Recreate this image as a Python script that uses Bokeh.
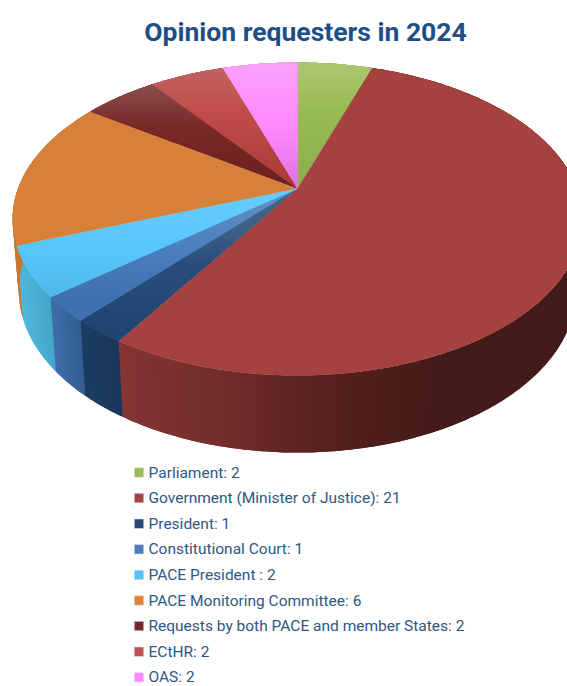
import math

from bokeh.core.properties import value
from bokeh.embed import file_html
from bokeh.models import Range1d
from bokeh.plotting import figure
from bokeh.resources import INLINE

# Opinion requesters and their request counts
categories = [
    "Parliament",
    "Government (Minister of Justice)",
    "President",
    "Constitutional Court",
    "PACE President ",
    "PACE Monitoring Committee",
    "Requests by both PACE and member States",
    "ECtHR",
    "OAS",
]
counts = [2, 21, 1, 1, 2, 6, 2, 2, 2]
chart_title = "Opinion requesters in 2024"

swatch_colors = ["#9BBB59", "#A5413F", "#254A78", "#4A7EBB", "#55C4F5",
                 "#DE8238", "#772725", "#C0504D", "#FF8AFF"]

# Vertical shading of each slice's top face: (screen y, colour)
top_shades = [
    [(62, "#ABC870"), (110, "#98BA55"), (190, "#8CAE4C")],
    [(0, "#A5413F")],
    [(225, "#3F6287"), (262, "#2A4E7C"), (325, "#1F4572")],
    [(205, "#5E8DC0"), (255, "#4A7DBD"), (300, "#3F70B0")],
    [(190, "#66CCFF"), (250, "#58C6FA"), (300, "#4DB9E8")],
    [(0, "#D6803A")],
    [(85, "#8A4E4D"), (125, "#7A2A28"), (188, "#6C1F1D")],
    [(68, "#C2625F"), (120, "#BF4A47"), (188, "#A63A37")],
    [(62, "#F9A0FB"), (125, "#FF8AFF"), (188, "#DD70DD")],
]

# Horizontal shading of each slice's outer wall: (screen x, colour)
wall_shades = [
    [(0, "#7C9447")],
    [(118, "#843534"), (240, "#6E2B2A"), (300, "#5C2322"), (400, "#4A1C1A"), (445, "#431B18")],
    [(85, "#1B3B60"), (118, "#19375A")],
    [(55, "#3C6CA5"), (85, "#2F5A8D")],
    [(20, "#4FB6DA"), (55, "#41A3C6")],
    [(12, "#C67730"), (30, "#BD7030")],
    [(0, "#5B1E1C")],
    [(0, "#933B39")],
    [(0, "#C26AC2")],
]

# Perspective placement of the disc on the page
CX, APEX_Y = 297.0, 188.0
RX, RY, TILT = 279.5, 150.6, 0.195


def hex_rgb(c):
    return tuple(int(c[i:i + 2], 16) for i in (1, 3, 5))


def shade(stops, t):
    if t <= stops[0][0]:
        return stops[0][1]
    for (t0, c0), (t1, c1) in zip(stops, stops[1:]):
        if t <= t1:
            f = (t - t0) / (t1 - t0)
            a, b = hex_rgb(c0), hex_rgb(c1)
            return "#%02x%02x%02x" % tuple(round(x + (y - x) * f) for x, y in zip(a, b))
    return stops[-1][1]


def rim_point(angle):
    u, v = math.sin(angle), math.cos(angle)
    w = 1 + TILT * v
    return CX + RX * u / w, APEX_Y - RY * v / w


def floor_point(angle):
    x, y = rim_point(angle)
    return CX + (x - CX) * 0.978, y + 70 - 7 * math.cos(angle)


def clip_band(points, y0, y1):
    """Cut a convex polygon down to the horizontal band y0..y1."""
    def clip(pts, inside, limit):
        out = []
        for i, a in enumerate(pts):
            b = pts[(i + 1) % len(pts)]
            if inside(a):
                out.append(a)
            if inside(a) != inside(b):
                f = (limit - a[1]) / (b[1] - a[1])
                out.append((a[0] + (b[0] - a[0]) * f, limit))
        return out

    pts = clip(points, lambda p: p[1] >= y0, y0)
    return clip(pts, lambda p: p[1] <= y1, y1) if pts else []


total = sum(counts)
spans = []
running = 0
for n in counts:
    spans.append((running / total * 2 * math.pi, (running + n) / total * 2 * math.pi))
    running += n

wall_xs, wall_ys, wall_cols = [], [], []
top_xs, top_ys, top_cols = [], [], []

for (start, end), t_stops, w_stops in zip(spans, top_shades, wall_shades):
    steps = max(2, int((end - start) / math.radians(0.75)))
    step = (end - start) / steps
    angles = [start + step * i for i in range(steps + 1)]

    # Outer wall: narrow upright strips, each running under the one drawn after it
    for a0 in angles[:-1]:
        a1, a2 = a0 + step, a0 + 2 * step
        quad = [rim_point(a0), rim_point(a1), rim_point(a2),
                floor_point(a2), floor_point(a1), floor_point(a0)]
        wall_xs.append([q[0] for q in quad])
        wall_ys.append([q[1] for q in quad])
        wall_cols.append(shade(w_stops, (quad[0][0] + quad[1][0]) / 2))

    # Top face: a base wedge, then overlapping horizontal bands for the gradient
    wedge = [(CX, APEX_Y)] + [rim_point(a) for a in angles]
    low = min(q[1] for q in wedge)
    high = max(q[1] for q in wedge)
    top_xs.append([q[0] for q in wedge])
    top_ys.append([q[1] for q in wedge])
    top_cols.append(shade(t_stops, (low + high) / 2))
    if len(t_stops) > 1:
        y = low
        while y < high:
            band = clip_band(wedge, y, y + 3)
            if len(band) >= 3:
                top_xs.append([q[0] for q in band])
                top_ys.append([q[1] for q in band])
                top_cols.append(shade(t_stops, y + 1))
            y += 2

p = figure(width=567, height=686, output_backend="svg", toolbar_location=None,
           x_range=Range1d(0, 567), y_range=Range1d(686, 0),
           min_border=0, outline_line_color=None, background_fill_color="white",
           border_fill_color="white")
p.axis.visible = False
p.grid.visible = False

p.patches(wall_xs, wall_ys, fill_color=wall_cols, line_color=None)
p.patches(top_xs, top_ys, fill_color=top_cols, line_color=None)

p.text([305], [30.5], text=[chart_title], text_font=value("Roboto"), text_font_style="bold",
       text_font_size="26.5px", text_color="#1F4E86", text_align="center", text_baseline="middle")

legend_y = [472 + 25.6 * i for i in range(len(categories))]
legend_labels = [f"{c}: {n}" for c, n in zip(categories, counts)]
p.rect([138.5] * len(categories), legend_y, width=9.5, height=9.5, fill_color=swatch_colors,
       line_color="#E8E8E8", line_width=0.6)
p.text([148] * len(categories), legend_y, text=legend_labels,
       text_font=value("Roboto"), text_font_size="15.5px",
       text_color="#2F5784", text_align="left", text_baseline="middle")

open("out.html", "w").write(file_html(p, INLINE))
